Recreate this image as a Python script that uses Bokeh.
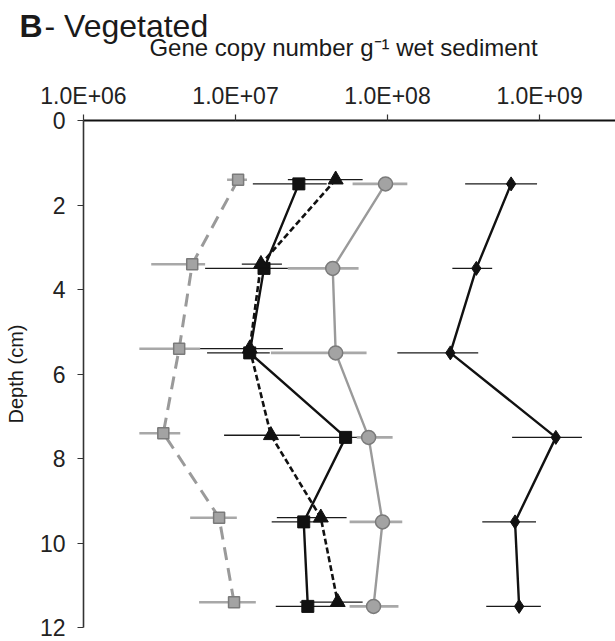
from bokeh.plotting import figure
from bokeh.layouts import column, row
from bokeh.models import Range1d, FixedTicker, Label
from bokeh.embed import file_html
from bokeh.resources import INLINE

# ---------------- data ----------------
x_tick_values = [1e6, 1e7, 1e8, 1e9]
x_tick_labels = ["1.0E+06", "1.0E+07", "1.0E+08", "1.0E+09"]
y_tick_values = [0, 2, 4, 6, 8, 10, 12]

# gray squares, dashed gray line
gsq_depth = [1.4, 3.4, 5.4, 7.4, 9.4, 11.4]
gsq_val = [1.04e7, 5.19e6, 4.26e6, 3.35e6, 7.80e6, 9.78e6]
gsq_lo = [8.8e6, 2.79e6, 2.33e6, 2.33e6, 5.03e6, 5.76e6]
gsq_hi = [1.19e7, 6.31e6, 5.85e6, 4.33e6, 1.02e7, 1.36e7]

# black squares, solid black line
bsq_depth = [1.5, 3.5, 5.5, 7.5, 9.5, 11.5]
bsq_val = [2.61e7, 1.54e7, 1.24e7, 5.30e7, 2.81e7, 2.99e7]
bsq_lo = [1.30e7, 6.31e6, 6.50e6, 2.65e7, 1.73e7, 1.84e7]
bsq_hi = [3.98e7, 2.21e7, 1.68e7, 8.87e7, 3.75e7, 4.84e7]

# black triangles, dashed black line
tri_depth = [1.4, 3.4, 5.4, 7.45, 9.4, 11.4]
tri_val = [4.56e7, 1.47e7, 1.24e7, 1.71e7, 3.64e7, 4.70e7]
tri_lo = [2.21e7, 1.10e7, 5.85e6, 8.41e6, 1.87e7, 2.65e7]
tri_hi = [6.86e7, 2.02e7, 2.05e7, 2.65e7, 5.38e7, 6.86e7]

# gray circles, solid gray line
cir_depth = [1.5, 3.5, 5.5, 7.5, 9.5, 11.5]
cir_val = [9.70e7, 4.36e7, 4.56e7, 7.51e7, 9.27e7, 8.09e7]
cir_lo = [5.89e7, 2.21e7, 1.71e7, 6.27e7, 5.63e7, 5.63e7]
cir_hi = [1.35e8, 6.45e7, 7.28e7, 1.08e8, 1.25e8, 1.18e8]

# black diamonds, solid black line
dia_depth = [1.5, 3.5, 5.5, 7.5, 9.5, 11.5]
dia_val = [6.50e8, 3.84e8, 2.59e8, 1.28e9, 6.90e8, 7.34e8]
dia_lo = [3.24e8, 2.67e8, 1.16e8, 6.60e8, 4.20e8, 4.46e8]
dia_hi = [9.63e8, 4.88e8, 3.95e8, 1.90e9, 9.48e8, 1.02e9]

FONT = "Liberation Sans"
TOP_H = 62
Y_FIX = 10  # measured offset of the strip's frame

# ---------------- title strip (title + x-axis title) ----------------
t = figure(width=615, height=TOP_H, x_range=Range1d(0, 615),
           y_range=Range1d(0, TOP_H), x_axis_type=None, y_axis_type=None,
           output_backend="svg", toolbar_location=None,
           min_border=0, min_border_left=0, min_border_right=0,
           min_border_top=0, min_border_bottom=0)
try:
    t.title = None
except Exception:
    t.title.text = ""
    t.title.standoff = 0
t.outline_line_color = None
t.grid.visible = False
t.background_fill_color = "white"
t.border_fill_color = "white"


def tlab(text, x, y_top, size, style="normal", align="left"):
    t.add_layout(Label(x=x, y=TOP_H - y_top + Y_FIX, x_units="screen", y_units="screen",
                       text=text, text_font=FONT, text_font_size=size,
                       text_font_style=style, text_align=align,
                       text_baseline="alphabetic", text_color="#1a1a1a"))


tlab("B", 19, 35, "32px", style="bold")
tlab("- Vegetated", 44, 35, "32px")
tlab("Gene copy number g\u207b\u00b9 wet sediment", 343, 57, "24px", align="center")

# ---------------- main chart ----------------
p = figure(width=615, height=641 - TOP_H, x_axis_type="log", x_axis_location="above",
           x_range=Range1d(1e6, 3.16e9), y_range=Range1d(12, 0),
           output_backend="svg", toolbar_location=None,
           min_border_left=83, min_border_right=0, min_border_top=120 - TOP_H,
           min_border_bottom=14)
try:
    p.title = None
except Exception:
    p.title.text = ""
p.background_fill_color = "white"
p.border_fill_color = "white"
p.outline_line_color = None
p.grid.visible = False

# top (x) axis
xa = p.xaxis[0]
xa.ticker = FixedTicker(ticks=x_tick_values)
xa.major_label_overrides = {v: s for v, s in zip(x_tick_values, x_tick_labels)}
xa.minor_tick_line_color = None
xa.major_tick_in = 0
xa.major_tick_out = 6
xa.axis_line_width = 2.2
xa.axis_line_color = "#111111"
xa.major_tick_line_color = "#333333"
xa.major_tick_line_width = 1.2
xa.major_label_text_font = FONT
xa.major_label_text_font_size = "23px"
xa.major_label_text_color = "#222222"
xa.major_label_standoff = 6

# left (y) axis
ya = p.yaxis[0]
ya.ticker = FixedTicker(ticks=y_tick_values)
ya.minor_tick_line_color = None
ya.major_tick_in = 0
ya.major_tick_out = 6
ya.axis_line_width = 1.6
ya.axis_line_color = "#333333"
ya.major_tick_line_color = "#333333"
ya.major_tick_line_width = 1.2
ya.major_label_text_font = FONT
ya.major_label_text_font_size = "23px"
ya.major_label_text_color = "#222222"
ya.major_label_standoff = 12
ya.axis_label = "Depth (cm)"
ya.axis_label_text_font = FONT
ya.axis_label_text_font_size = "20px"
ya.axis_label_text_font_style = "normal"
ya.axis_label_text_color = "#1a1a1a"
ya.axis_label_standoff = 10

GRAY_BAR = "#a8a8a8"
GRAY_LINE = "#9a9a9a"
GRAY_FILL = "#a3a3a3"
GRAY_EDGE = "#7a7a7a"

# error bars
p.segment(x0=gsq_lo, x1=gsq_hi, y0=gsq_depth, y1=gsq_depth, line_color=GRAY_BAR, line_width=2.5)
p.segment(x0=bsq_lo, x1=bsq_hi, y0=bsq_depth, y1=bsq_depth, line_color="#1a1a1a", line_width=1.4)
p.segment(x0=tri_lo, x1=tri_hi, y0=tri_depth, y1=tri_depth, line_color="#1a1a1a", line_width=1.4)
p.segment(x0=cir_lo, x1=cir_hi, y0=cir_depth, y1=cir_depth, line_color=GRAY_BAR, line_width=2.8)
p.segment(x0=dia_lo, x1=dia_hi, y0=dia_depth, y1=dia_depth, line_color="#1a1a1a", line_width=1.2)

# lines
p.line(gsq_val, gsq_depth, line_color=GRAY_LINE, line_width=3, line_dash="13 8")
p.line(bsq_val, bsq_depth, line_color="#111111", line_width=2.4)
p.line(tri_val, tri_depth, line_color="#111111", line_width=2.6, line_dash="6 3")
p.line(cir_val, cir_depth, line_color=GRAY_LINE, line_width=2.4)
p.line(dia_val, dia_depth, line_color="#111111", line_width=2.4)

# markers
p.scatter(gsq_val, gsq_depth, marker="square", size=11, fill_color=GRAY_FILL,
          line_color=GRAY_EDGE, line_width=1.5)
p.scatter(bsq_val, bsq_depth, marker="square", size=12, fill_color="#111111",
          line_color="#111111")
p.scatter(tri_val, tri_depth, marker="triangle", size=15, fill_color="#111111",
          line_color="#111111")
p.scatter(cir_val, cir_depth, marker="circle", size=14, fill_color=GRAY_FILL,
          line_color=GRAY_EDGE, line_width=1.5)
p.scatter(dia_val, dia_depth, marker="diamond", size=14, fill_color="#111111",
          line_color="#111111")

layout = column(row(t, spacing=0), p, spacing=0)
open("out.html", "w").write(file_html(layout, INLINE))
